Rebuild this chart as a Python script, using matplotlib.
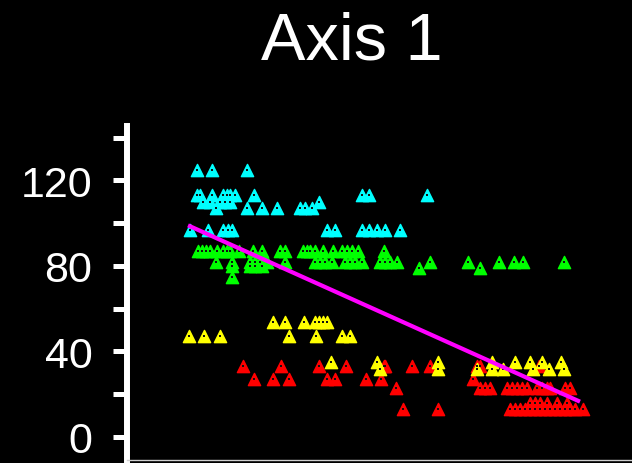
import matplotlib
matplotlib.use("Agg")
import matplotlib.pyplot as plt
import numpy as np

plt.rcParams['font.family'] = ['Liberation Sans', 'DejaVu Sans']

# ---- data (x in arbitrary horizontal units, y in axis units) ----
cyan_x = [197, 212, 247,
          197, 200, 212, 223, 227, 230, 235, 254,
          203, 210, 220, 225, 230,
          216, 247, 262, 277, 300, 305, 312, 319,
          362, 369, 427,
          190, 208, 223, 228, 232, 327, 335, 362, 369, 377, 385, 400]
cyan_y = [125, 125, 125,
          113, 113, 113, 113, 113, 113, 113, 113,
          110, 110, 110, 110, 110,
          107, 107, 107, 107, 107, 107, 107, 110,
          113, 113, 113,
          97, 97, 97, 97, 97, 97, 97, 97, 97, 97, 97, 97]

green_x = [198, 202, 206, 210, 217, 223, 227, 230, 239, 253, 262, 280, 285, 303, 307,
           310, 315, 323, 333, 342, 347, 352, 358, 384,
           216, 232, 250, 255, 260, 267, 285, 315, 320, 325, 332, 345, 350, 355, 362,
           380, 385, 390, 397, 430, 468, 499, 514, 523, 564,
           232, 250, 255, 262, 419, 480,
           232]
green_y = [87] * 24 + [82] * 25 + [80, 80, 80, 80, 79, 79] + [75]

yellow_x = [189, 204, 220, 273, 285, 304, 315, 319, 323, 327, 289, 316, 342, 350,
            331, 377, 438, 492, 515, 530, 542, 561,
            380, 438, 477, 492, 503, 533, 549, 564]
yellow_y = [47, 47, 47, 54, 54, 54, 54, 54, 54, 54, 47, 47, 47, 47,
            35, 35, 35, 35, 35, 35, 35, 35,
            32, 32, 32, 32, 32, 32, 32, 32]

red_x = [243, 281, 319, 346, 385, 384, 412, 430, 477, 480, 539,
         254, 273, 289, 327, 335, 366, 381, 473,
         396, 480, 485, 490, 507, 512, 517, 522, 527, 537, 542, 547, 550, 565, 570,
         403, 438, 510, 515, 520, 525, 530, 535, 540, 545, 550, 555, 560, 565, 570, 575, 583,
         530, 535, 540, 547, 557, 567]
red_y = [33] * 11 + [27] * 8 + [23] * 15 + [13] * 17 + [16] * 6

trend_x = [188, 580]
trend_y = [99, 16.5]

y_ticks = [0, 40, 80, 120]
y_minor = [20, 60, 100, 140]

# ---- figure ----
W, H = 632, 464
fig = plt.figure(figsize=(W / 100, H / 100), dpi=100, facecolor='black')
ax = fig.add_axes([127 / W, 3 / H, (W - 127) / W, (461 - 127) / H])
ax.set_facecolor('black')
ax.set_xlim(127, 632)
ax.set_ylim(-10.8, 145.5)

mk = dict(marker='^', s=78, linewidths=1.0, zorder=3)
for xs, ys, c in [(cyan_x, cyan_y, '#00ffff'), (green_x, green_y, '#00ff00'),
                  (red_x, red_y, '#ff0000'), (yellow_x, yellow_y, '#ffff00')]:
    ax.scatter(xs, ys, c=c, edgecolors=c, **mk)
    ax.scatter(xs, ys, c='#101010', s=0.8, marker='s', linewidths=0, zorder=4)

ax.plot(trend_x, trend_y, color='#ff00ff', lw=3, zorder=5, solid_capstyle='butt')

for s in ['top', 'right']:
    ax.spines[s].set_visible(False)
ax.spines['left'].set_color('white')
ax.spines['left'].set_linewidth(4.3)
ax.spines['bottom'].set_color('#d0d0d0')
ax.spines['bottom'].set_linewidth(1)

ax.set_xticks([])
ax.set_yticks(y_ticks)
ax.set_yticks(y_minor, minor=True)
ax.tick_params(axis='y', which='both', colors='white', length=10, width=3.6,
               direction='out', pad=15)
ax.tick_params(axis='y', which='major', labelsize=31, labelcolor='white')

fig.text(352 / W, 1 - 60 / H, 'Axis 1', color='white', fontsize=48,
         ha='center', va='baseline')

fig.savefig('out.png', dpi=100, facecolor='black')
